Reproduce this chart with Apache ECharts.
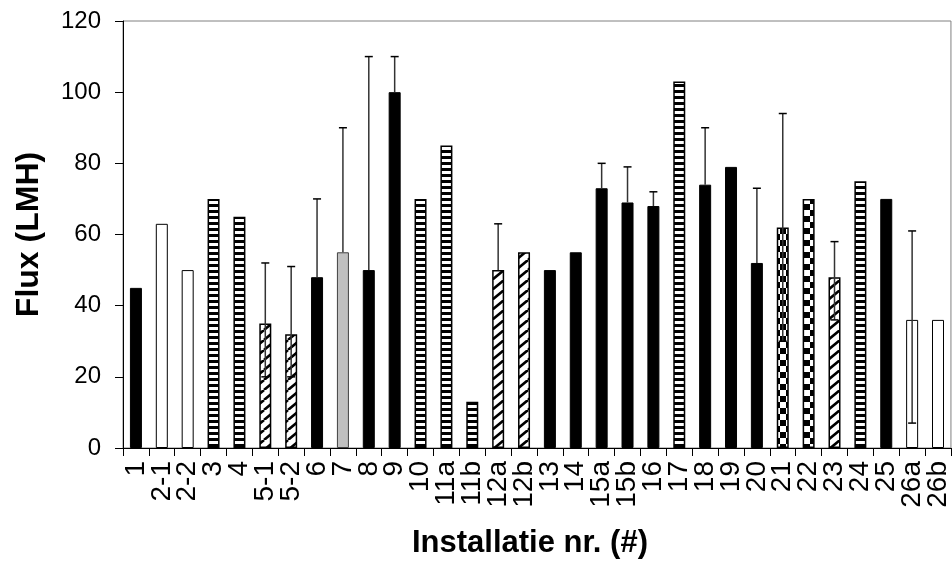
<!DOCTYPE html>
<html>
<head>
<meta charset="utf-8">
<script src="https://cdn.jsdelivr.net/npm/echarts@6/dist/echarts.min.js"></script>
<style>
  html, body { margin: 0; padding: 0; background: #fff; }
  #main { width: 952px; height: 565px; }
</style>
</head>
<body>
<div id="main"></div>
<script>
// installations on the x axis
var categories = ['1', '2-1', '2-2', '3', '4', '5-1', '5-2', '6', '7', '8', '9', '10', '11a', '11b', '12a', '12b',
  '13', '14', '15a', '15b', '16', '17', '18', '19', '20', '21', '22', '23', '24', '25', '26a', '26b'];
// flux per installation (LMH)
var flux = [45, 63, 50, 70, 65, 35, 32, 48, 55, 50, 100, 70, 85, 13, 50, 55,
  50, 55, 73, 69, 68, 103, 74, 79, 52, 62, 70, 48, 75, 70, 36, 36];
// fill type of each bar
var fills = ['solid', 'open', 'open', 'stripe', 'stripe', 'hatch', 'hatch', 'solid', 'grey', 'solid', 'solid', 'stripe', 'stripe', 'stripe', 'hatch', 'hatch',
  'solid', 'solid', 'solid', 'solid', 'solid', 'stripe', 'solid', 'solid', 'solid', 'checker', 'checker', 'hatch', 'stripe', 'solid', 'open', 'open'];
// error bars: category, low end, high end
var errCats = ['5-1', '5-2', '6', '7', '8', '9', '12a', '15a', '15b', '16', '18', '20', '21', '23', '26a'];
var errLow = [20, 20, 48, 55, 50, 100, 50, 73, 69, 68, 74, 52, 30, 36, 7];
var errHigh = [52, 51, 70, 90, 110, 110, 63, 80, 79, 72, 90, 73, 94, 58, 61];
var yTicks = [0, 20, 40, 60, 80, 100, 120];

var FONT = '"Liberation Sans", Arial, sans-serif';

function makePattern(w, h, draw) {
  var c = document.createElement('canvas');
  c.width = w; c.height = h;
  var ctx = c.getContext('2d');
  draw(ctx, w, h);
  return { image: c, repeat: 'repeat' };
}

var patterns = {
  solid: '#000',
  open: '#fff',
  grey: '#c0c0c0',
  stripe: makePattern(4, 6, function (ctx, w, h) {
    ctx.fillStyle = '#000'; ctx.fillRect(0, 0, w, h);
    ctx.fillStyle = '#fff'; ctx.fillRect(0, 3, w, 3);
  }),
  hatch: makePattern(12, 10, function (ctx, w, h) {
    ctx.fillStyle = '#fff'; ctx.fillRect(0, 0, w, h);
    ctx.strokeStyle = '#000'; ctx.lineWidth = 2.6;
    ctx.beginPath();
    ctx.moveTo(-w, h); ctx.lineTo(0, 0);
    ctx.moveTo(0, h); ctx.lineTo(w, 0);
    ctx.moveTo(w, h); ctx.lineTo(2 * w, 0);
    ctx.stroke();
  }),
  checker: makePattern(12, 12, function (ctx, w, h) {
    ctx.fillStyle = '#fff'; ctx.fillRect(0, 0, w, h);
    ctx.fillStyle = '#000';
    ctx.fillRect(0, 0, 6, 6); ctx.fillRect(6, 6, 6, 6);
  })
};

var barData = flux.map(function (v, i) {
  var f = fills[i];
  return {
    value: v,
    itemStyle: {
      color: patterns[f],
      borderColor: f === 'grey' ? '#404040' : '#000',
      borderWidth: f === 'stripe' || f === 'hatch' || f === 'checker' ? 1.5 : 1
    }
  };
});

var errData = errCats.map(function (c, i) {
  var idx = categories.indexOf(c);
  return [idx, errLow[i], errHigh[i], flux[idx]];
});

var myChart = echarts.init(document.getElementById('main'));
option = {
  animation: false,
  backgroundColor: '#fff',
  grid: {
    left: 123,
    right: 1,
    top: 21,
    bottom: 117,
    show: true,
    borderColor: '#808080',
    borderWidth: 1
  },
  xAxis: {
    type: 'category',
    data: categories,
    name: 'Installatie nr. (#)',
    nameLocation: 'middle',
    nameGap: 80,
    nameTextStyle: { fontFamily: FONT, fontSize: 31, fontWeight: 'bold', color: '#000', padding: [0, 14, 0, 0] },
    axisLine: { lineStyle: { color: '#000', width: 1 } },
    axisTick: { show: true, interval: 0, length: 8, lineStyle: { color: '#000' } },
    axisLabel: { interval: 0, rotate: 90, fontFamily: FONT, fontSize: 28, color: '#000', margin: 13 },
    splitLine: { show: false }
  },
  yAxis: {
    type: 'value',
    min: yTicks[0],
    max: yTicks[yTicks.length - 1],
    interval: 20,
    name: 'Flux (LMH)',
    nameLocation: 'middle',
    nameGap: 78,
    nameTextStyle: { fontFamily: FONT, fontSize: 32, fontWeight: 'bold', color: '#000' },
    axisLine: { show: true, lineStyle: { color: '#000', width: 1 } },
    axisTick: { show: true, length: 8, lineStyle: { color: '#000' } },
    axisLabel: { fontFamily: FONT, fontSize: 24, color: '#000', margin: 22 },
    splitLine: { show: false }
  },
  series: [{
    type: 'bar',
    barWidth: 12,
    data: barData,
    z: 2
  }, {
    type: 'custom',
    z: 3,
    data: errData,
    renderItem: function (params, api) {
      var x = api.coord([api.value(0), 0])[0];
      var yLow = api.coord([api.value(0), api.value(1)])[1];
      var yHigh = api.coord([api.value(0), api.value(2)])[1];
      var yBar = api.coord([api.value(0), api.value(3)])[1];
      var half = 4;
      var children = [{
        type: 'line',
        shape: { x1: x, y1: yLow, x2: x, y2: yHigh },
        style: { stroke: '#333', lineWidth: 1.5 }
      }, {
        type: 'line',
        shape: { x1: x - half, y1: yHigh, x2: x + half, y2: yHigh },
        style: { stroke: '#000', lineWidth: 1.5 }
      }];
      if (yLow > yBar + 1) {
        children.push({
          type: 'line',
          shape: { x1: x - half, y1: yLow, x2: x + half, y2: yLow },
          style: { stroke: '#000', lineWidth: 1.5 }
        });
      }
      return { type: 'group', children: children };
    }
  }]
};
myChart.setOption(option);
window.addEventListener('resize', function () {
  myChart.resize();
});
</script>
</body>
</html>
